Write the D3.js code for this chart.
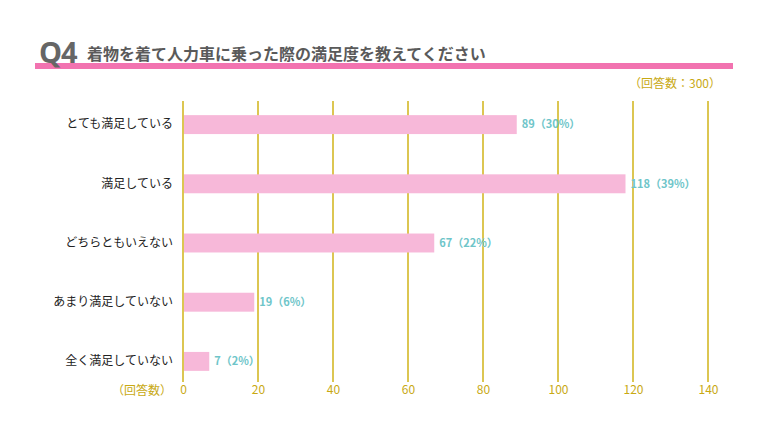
<!DOCTYPE html>
<html>
<head>
<meta charset="utf-8">
<script src="https://cdn.jsdelivr.net/npm/d3@7"></script>
<style>
  body { margin: 0; background: #fff; }
  svg { display: block; font-family: "Noto Sans CJK JP", "Noto Sans", sans-serif; }
</style>
</head>
<body>
<svg id="chart" width="768" height="432"></svg>
<script>
const categories = ["とても満足している", "満足している", "どちらともいえない", "あまり満足していない", "全く満足していない"];
const counts = [89, 118, 67, 19, 7];
const percents = [30, 39, 22, 6, 2];
const xTicks = [0, 20, 40, 60, 80, 100, 120, 140];

const svg = d3.select("#chart");
const plotLeft = 183, plotRight = 708;
const plotTop = 95, plotBottom = 391;

const x = d3.scaleLinear().domain([0, 140]).range([plotLeft, plotRight]);
const y = d3.scaleBand().domain(categories).range([plotTop, plotBottom]).paddingInner(0.68).paddingOuter(0.34);

// title
svg.append("rect").attr("x", 35).attr("y", 63).attr("width", 698).attr("height", 6).attr("fill", "#f273b0");
svg.append("text").attr("x", 39).attr("y", 63)
  .style("font-family", "'Open Sans', sans-serif").style("font-weight", "bold")
  .style("font-size", "29px").attr("fill", "#666").attr("letter-spacing", "-1")
  .text("Q4");
svg.append("text").attr("x", 87).attr("y", 60)
  .style("font-size", "16px").style("font-weight", "bold").attr("fill", "#5a5a5a")
  .text("着物を着て人力車に乗った際の満足度を教えてください");

svg.append("text").attr("x", 721).attr("y", 88).attr("text-anchor", "end")
  .style("font-size", "12px").attr("fill", "#c8a913").text("（回答数：300）");

// grid
svg.append("g").selectAll("line").data(xTicks).join("line")
  .attr("x1", d => x(d)).attr("x2", d => x(d))
  .attr("y1", 101).attr("y2", 382)
  .attr("stroke", "#dcc652").attr("stroke-width", 2);

// x axis labels
const axis = d3.axisBottom(x).tickValues(xTicks).tickSize(0).tickPadding(0);
const gx = svg.append("g").attr("transform", "translate(0,385)").call(axis);
gx.select(".domain").remove();
gx.selectAll("text").style("font-size", "12px").attr("fill", "#c8a913")
  .style("font-family", "'Noto Sans CJK JP', sans-serif");
svg.append("text").attr("x", 172).attr("y", 395).attr("text-anchor", "end")
  .style("font-size", "12px").attr("fill", "#c8a913").text("（回答数）");

// y labels
const gy = svg.append("g").attr("transform", `translate(${plotLeft - 10},0)`)
  .call(d3.axisLeft(y).tickSize(0).tickPadding(0));
gy.select(".domain").remove();
gy.selectAll("text").style("font-size", "12px").attr("fill", "#222")
  .style("font-family", "'Noto Sans CJK JP', sans-serif");

// bars
svg.append("g").selectAll("rect").data(counts).join("rect")
  .attr("x", x(0) + 1)
  .attr("y", (d, i) => y(categories[i]))
  .attr("width", d => x(d) - x(0) - 1)
  .attr("height", y.bandwidth())
  .attr("fill", "#f7b8d9");

// value labels
svg.append("g").selectAll("text").data(counts).join("text")
  .attr("x", d => x(d) + 5)
  .attr("y", (d, i) => y(categories[i]) + y.bandwidth() / 2)
  .attr("dy", "0.35em")
  .style("font-size", "11px").style("font-weight", "bold").attr("fill", "#6ec5c9")
  .text((d, i) => `${d}（${percents[i]}%）`);
</script>
</body>
</html>
